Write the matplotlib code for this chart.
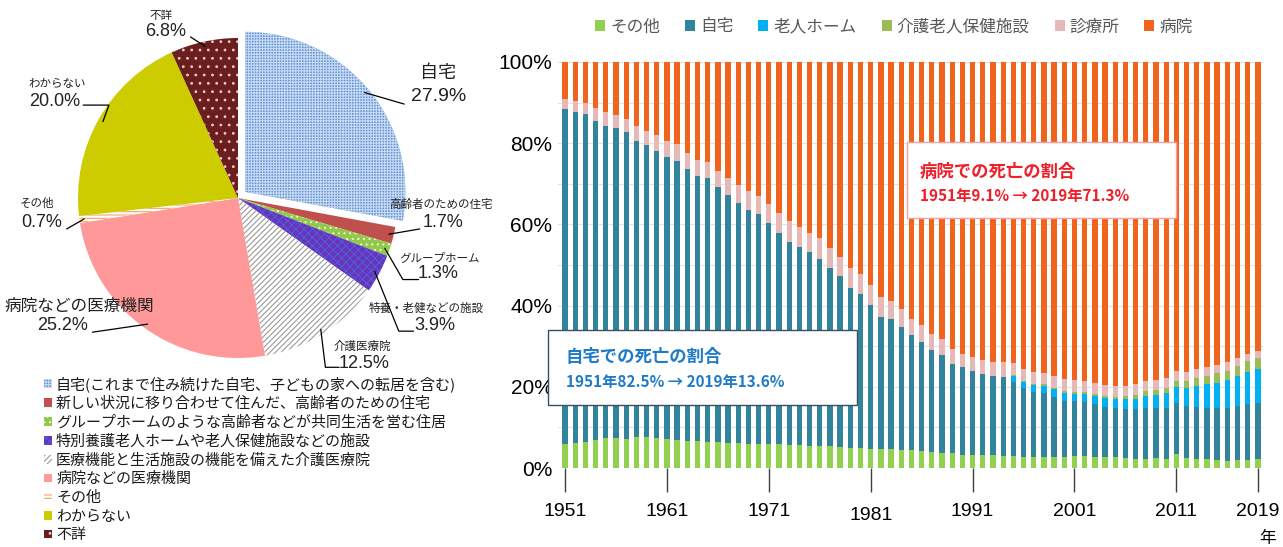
import matplotlib
matplotlib.use('Agg')
import matplotlib.pyplot as plt
import matplotlib.patches as mpatches
import numpy as np

plt.rcParams['font.family'] = ['Noto Sans CJK JP', 'DejaVu Sans']
plt.rcParams['hatch.linewidth'] = 0.8

# ---- pie data ----
pie_labels = ['自宅', '高齢者のための住宅', 'グループホーム', '特養・老健などの施設', '介護医療院',
              '病院などの医療機関', 'その他', 'わからない', '不詳']
pie_values = [27.9, 1.7, 1.3, 3.9, 12.5, 25.2, 0.7, 20.0, 6.8]
pie_legend = ['自宅(これまで住み続けた自宅、子どもの家への転居を含む)',
              '新しい状況に移り合わせて住んだ、高齢者のための住宅',
              'グループホームのような高齢者などが共同生活を営む住居',
              '特別養護老人ホームや老人保健施設などの施設',
              '医療機能と生活施設の機能を備えた介護医療院',
              '病院などの医療機関',
              'その他',
              'わからない',
              '不詳']

# ---- stacked bar data (%) ----
years = list(range(1951, 2020))
other = [5.9, 6.2, 6.4, 7.0, 7.3, 7.3, 7.2, 7.6, 7.7, 7.4,
         7.1, 6.9, 6.7, 6.6, 6.4, 6.3, 6.2, 6.1, 6.0, 6.0,
         5.9, 5.8, 5.7, 5.6, 5.5, 5.4, 5.3, 5.2, 5.0, 4.9,
         4.8, 4.7, 4.6, 4.5, 4.4, 4.2, 4.0, 3.8, 3.6, 3.3,
         3.2, 3.1, 3.1, 3.0, 2.9, 2.8, 2.8, 2.8, 2.8, 2.7,
         2.9, 2.9, 2.8, 2.7, 2.6, 2.4, 2.3, 2.2, 2.4, 2.3,
         3.5, 2.4, 2.1, 2.1, 2.0, 1.8, 2.0, 2.0, 2.3]
home = [82.5, 81.4, 80.8, 78.5, 77.0, 76.5, 75.5, 72.9, 71.9, 70.7,
        69.6, 68.8, 66.9, 65.2, 65.0, 63.0, 61.0, 59.2, 57.5, 56.6,
        54.4, 52.0, 50.0, 48.9, 47.7, 46.2, 44.0, 42.1, 39.3, 38.0,
        35.3, 32.6, 32.1, 30.3, 28.3, 26.9, 25.1, 24.0, 22.0, 21.7,
        20.8, 20.0, 19.6, 19.5, 18.3, 16.9, 16.0, 15.7, 14.8, 13.9,
        13.5, 13.4, 13.0, 12.4, 12.2, 12.2, 12.3, 12.7, 12.4, 12.6,
        12.5, 12.8, 12.9, 12.8, 12.7, 13.0, 13.2, 13.7, 13.6]
nursing_home = [0] * 44 + [1.5, 1.5, 1.6, 1.7, 1.8, 1.9,
                           1.9, 1.9, 2.0, 2.1, 2.1, 2.3, 2.5, 2.9, 3.2, 3.5,
                           4.0, 4.6, 5.3, 5.8, 6.3, 6.9, 7.5, 8.0, 8.6]
care_facility = [0] * 44 + [0.2, 0.3, 0.3, 0.4, 0.4, 0.5,
                            0.5, 0.5, 0.5, 0.6, 0.7, 0.8, 0.9, 1.1, 1.2, 1.3,
                            1.5, 1.7, 1.9, 2.0, 2.3, 2.3, 2.5, 2.6, 2.6]
clinic = [2.5, 2.8, 2.6, 3.2, 3.5, 3.1, 3.3, 3.7, 3.4, 3.8,
          3.8, 4.0, 4.1, 4.1, 3.9, 3.9, 4.2, 4.4, 4.7, 4.5,
          4.7, 4.9, 5.1, 4.9, 4.8, 5.0, 5.0, 4.7, 4.9, 4.9,
          5.0, 4.7, 4.5, 4.4, 4.0, 4.1, 3.9, 3.9, 3.6, 3.1,
          3.4, 3.5, 3.5, 3.7, 3.0, 2.9, 2.9, 2.9, 2.9, 2.8,
          2.8, 2.7, 2.6, 2.6, 2.6, 2.6, 2.6, 2.5, 2.4, 2.4,
          2.3, 2.2, 2.2, 2.1, 2.1, 2.1, 1.8, 1.7, 1.6]
hospital = [9.1, 9.6, 10.2, 11.3, 12.2, 13.1, 14.0, 15.8, 17.0, 18.1,
            19.5, 20.3, 22.3, 24.1, 24.7, 26.8, 28.6, 30.3, 31.8, 32.9,
            35.0, 37.3, 39.2, 40.6, 42.0, 43.4, 45.7, 48.0, 50.8, 52.2,
            54.9, 58.0, 58.8, 60.8, 63.3, 64.8, 67.0, 68.3, 70.8, 71.9,
            72.6, 73.4, 73.8, 73.8, 74.1, 75.6, 76.4, 76.5, 77.3, 78.2,
            78.4, 78.6, 79.1, 79.6, 79.8, 79.7, 79.4, 78.6, 78.4, 77.9,
            76.2, 76.3, 75.6, 75.2, 74.6, 73.9, 73.0, 72.0, 71.3]
series_names = ['その他', '自宅', '老人ホーム', '介護老人保健施設', '診療所', '病院']
tick_years = [1951, 1961, 1971, 1981, 1991, 2001, 2011, 2019]

W, H = 1283, 547
fig = plt.figure(figsize=(W / 100, H / 100), dpi=100)


def fx(px):
    return px / W


def fy(py):
    return 1 - py / H


# ================= pie =================
cx, cy, R = 238, 198, 155
half = 200
axp = fig.add_axes([fx(cx - half), fy(cy + half), 2 * half / W, 2 * half / H])
lim = half / R
axp.set_xlim(-lim, lim)
axp.set_ylim(-lim, lim)
axp.axis('off')

pie_faces = ['#6394D6', '#C0504D', '#92C84B', '#6B33B5', '#FFFFFF',
             '#FF9999', '#FFFFFF', '#CCCC00', '#6B1E1E']
pie_hatch = ['++++++', None, '...', 'xxxx', '//////', None, '-----', None, '..']
pie_hcol = ['#C8DAF2', '#C0504D', '#E8F5D0', '#4F5CE0', '#9A9A9A',
            '#FF9999', '#F4A460', '#CCCC00', '#F0C8C8']
explode = [0.06, 0, 0, 0, 0, 0, 0, 0, 0]
wedges, _ = axp.pie(pie_values, startangle=90, counterclock=False, explode=explode,
                    colors=pie_faces, radius=1.0, center=(0, 0),
                    wedgeprops=dict(linewidth=0))
for w, h, hc in zip(wedges, pie_hatch, pie_hcol):
    w.set_edgecolor(hc)
    if h:
        w.set_hatch(h)


def d(px, py):
    return ((px - cx) / R, (cy - py) / R)


def edge_point(w, r=1.0):
    th = np.deg2rad((w.theta1 + w.theta2) / 2)
    c = w.center
    return (c[0] + r * np.cos(th), c[1] + r * np.sin(th))


# name pos, name size, pct pos, pct size, leader end, connection
label_spec = [
    ((432, 77), 13, (432, 100), 14, (399, 107), 'arc3'),
    ((435, 204), 8.3, (437, 222), 13, (414, 228), 'arc3'),
    ((433, 257), 8.3, (432, 271), 13, (413, 277), 'angle,angleA=0,angleB=-60,rad=0'),
    ((420, 305), 8.3, (429, 322), 13, (408, 327), 'angle,angleA=0,angleB=-68,rad=0'),
    ((358, 342), 8.3, (360, 358), 13, (336, 362), 'angle,angleA=0,angleB=-83,rad=0'),
    ((84, 303), 12, (68, 322), 13, (97, 328), 'arc3'),
    ((43, 203), 8.3, (48, 222), 13, (72, 228), 'arc3'),
    ((63, 87), 8.3, (60, 105), 13, (88, 108), 'angle,angleA=0,angleB=70,rad=0'),
    ((163, 21), 8.3, (168, 37), 13, (192, 42), 'arc3'),
]
for w, name, val, spec in zip(wedges, pie_labels, pie_values, label_spec):
    npos, nsz, ppos, psz, lend, conn = spec
    axp.text(*d(*npos), name, fontsize=nsz, ha='center', va='center', color='#222222')
    axp.text(*d(*ppos), f'{val:.1f}%', fontsize=psz, ha='center', va='center',
             color='#222222', family=['Liberation Sans', 'Noto Sans CJK JP'])
    axp.annotate('', xy=edge_point(w, 0.97), xytext=d(*lend),
                 arrowprops=dict(arrowstyle='-', color='black', lw=0.9,
                                 shrinkA=0, shrinkB=0, connectionstyle=conn))

fig.legend(wedges, pie_legend, loc='upper left', bbox_to_anchor=(fx(44), fy(376)),
           frameon=False, fontsize=10.8, handlelength=0.5, handleheight=0.5,
           handletextpad=0.3, labelspacing=0.31, borderaxespad=0, borderpad=0,
           labelcolor='#1A1A1A')

# ================= stacked bars =================
ax = fig.add_axes([fx(558), fy(468), (1263 - 558) / W, (468 - 62) / H])
x = np.arange(len(years))
stack = [other, home, nursing_home, care_facility, clinic, hospital]
colors = ['#92D050', '#31849B', '#00B0F0', '#9BBB59', '#E6B9B8', '#F0641E']
bottom = np.zeros(len(years))
for vals, name, col in zip(stack, series_names, colors):
    v = np.array(vals, dtype=float)
    ax.bar(x, v, bottom=bottom, width=0.52, color=col, label=name, linewidth=0, zorder=3)
    bottom += v

ax.set_xlim(-0.69, len(years) - 0.5)
ax.set_ylim(0, 100)
for s in ax.spines.values():
    s.set_visible(False)
ax.set_yticks(np.arange(0, 101, 20))
ax.set_yticklabels([f'{v}%' for v in range(0, 101, 20)])
ax.set_yticks(np.arange(0, 101, 10), minor=True)
ax.grid(axis='y', which='both', color='#E3E3E3', lw=0.8, zorder=0)
ax.tick_params(axis='y', which='both', length=0, pad=4, labelsize=15)
ax.set_xticks([years.index(t) for t in tick_years])
ax.set_xticklabels([str(t) for t in tick_years])
ax.tick_params(axis='x', length=17, width=1, color='#404040', pad=8, labelsize=14)
for lab in ax.get_yticklabels() + ax.get_xticklabels():
    lab.set_family(['Liberation Sans', 'Noto Sans CJK JP'])
ax.get_xticklabels()[3].set_y(-0.01)
fig.text(fx(1268), fy(538), '年', fontsize=12, ha='center', va='center')

leg = fig.legend(loc='center', bbox_to_anchor=(fx(894), fy(27)), ncol=6, frameon=False,
                 fontsize=12, handlelength=0.6, handleheight=0.6, handletextpad=0.3,
                 columnspacing=1.5, labelcolor='#595959')

# annotation boxes
fig.patches.append(mpatches.Rectangle((fx(548), fy(405)), (857 - 548) / W, (405 - 330) / H,
                                      transform=fig.transFigure, facecolor='white',
                                      edgecolor='#3B4E66', lw=1.0, zorder=5))
fig.text(fx(566), fy(357), '自宅での死亡の割合', fontsize=12.5, fontweight='bold',
         color='#1F7BC8', ha='left', va='center', zorder=6)
fig.text(fx(566), fy(382), '1951年82.5% → 2019年13.6%', fontsize=11, fontweight='bold',
         color='#1F7BC8', ha='left', va='center', zorder=6)

fig.patches.append(mpatches.Rectangle((fx(907), fy(218)), (1176 - 907) / W, (218 - 142) / H,
                                      transform=fig.transFigure, facecolor='white',
                                      edgecolor='#F2A0A0', lw=1.0, zorder=5))
fig.text(fx(920), fy(172), '病院での死亡の割合', fontsize=12.5, fontweight='bold',
         color='#F01E28', ha='left', va='center', zorder=6)
fig.text(fx(920), fy(196), '1951年9.1% → 2019年71.3%', fontsize=11, fontweight='bold',
         color='#F01E28', ha='left', va='center', zorder=6)

plt.savefig('out.png', dpi=100)
